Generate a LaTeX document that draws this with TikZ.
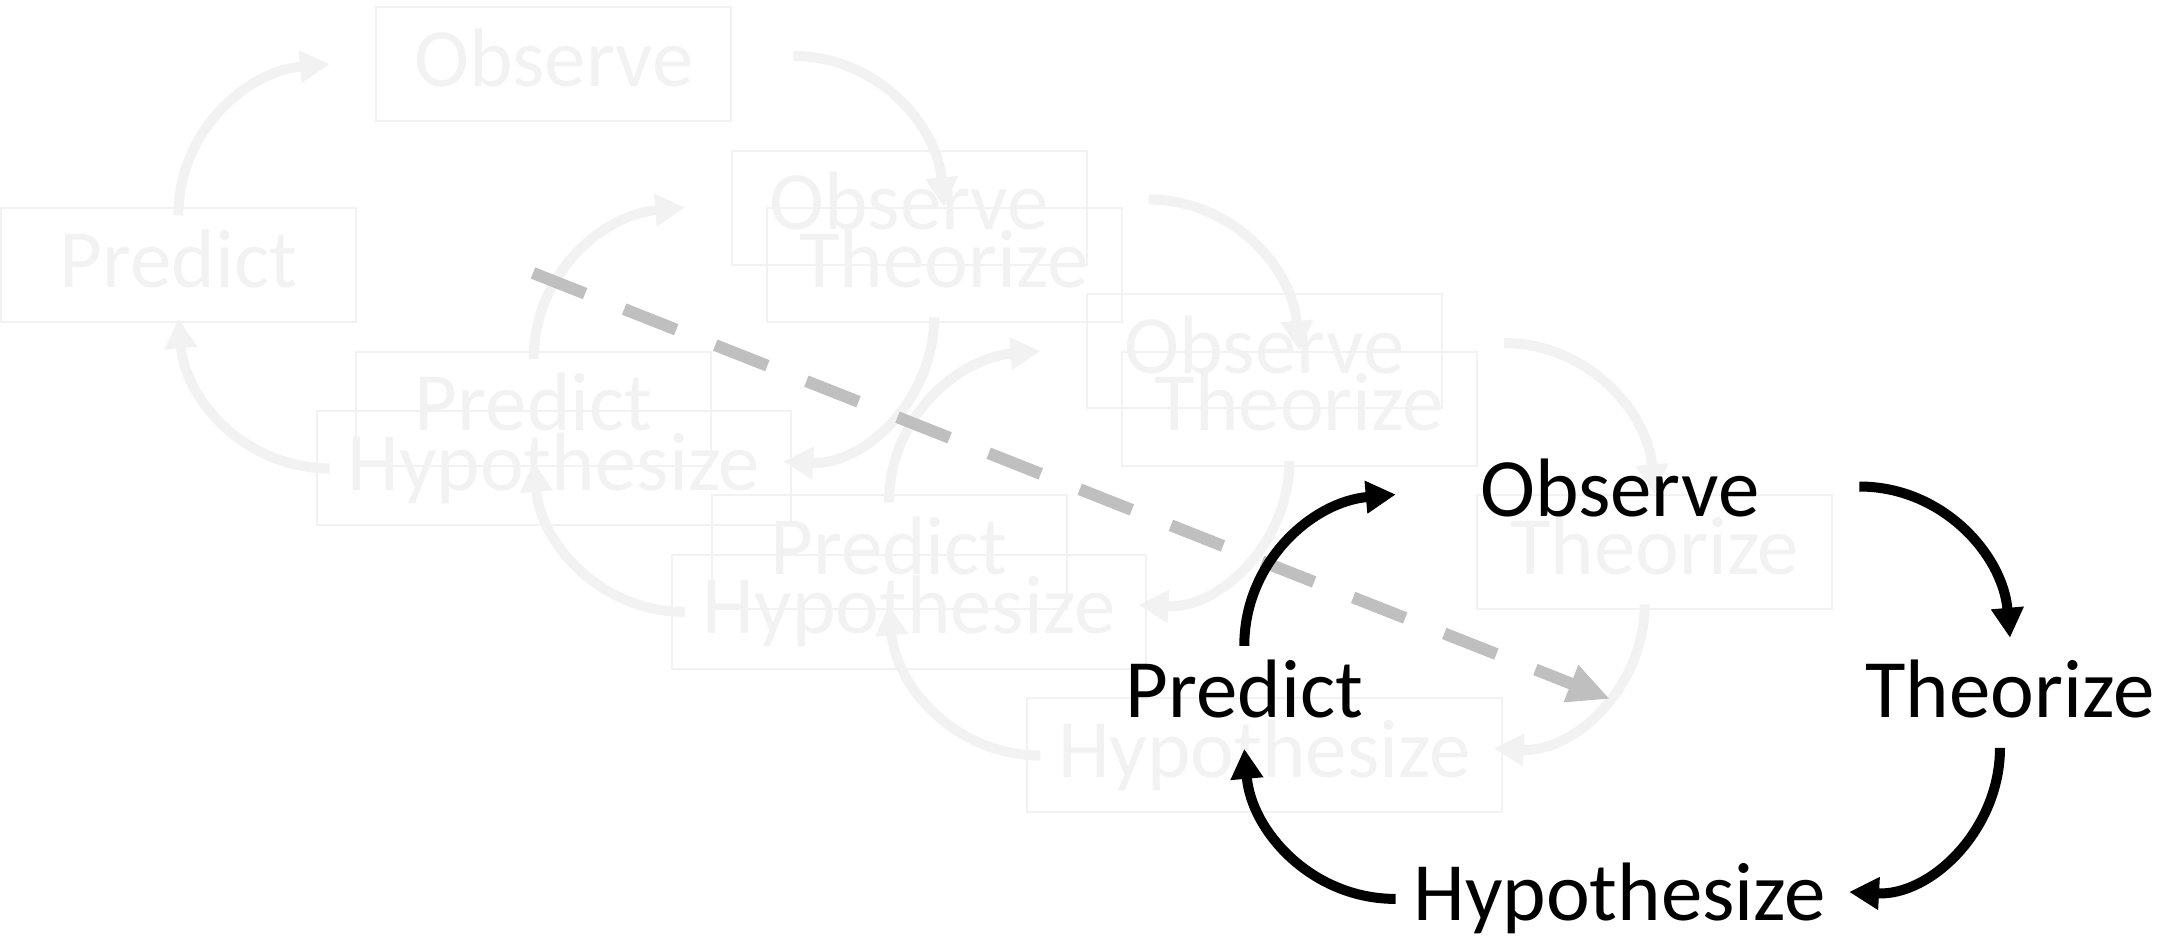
\documentclass[tikz,border=0pt]{standalone}
\usepackage{fontspec}
\setmainfont{Carlito}
\usepackage{xcolor}
\definecolor{ghost}{RGB}{242, 242, 242}
\definecolor{driftgray}{RGB}{191, 191, 191}
\usepackage{tikz}
\usetikzlibrary{arrows.meta, positioning, calc}

\begin{document}
\begin{tikzpicture}[
    stage/.style={rectangle, draw=ghost, line width=0.02cm, text=ghost,
      minimum width=3.55cm, minimum height=1.14cm, inner sep=0pt,
      text height=0.62cm, text depth=0.18cm, font=\fontsize{23.6}{28}\selectfont},
    wide/.style={minimum width=4.745cm},
    turn/.style={-{Triangle[length=0.3cm, width=0.31cm]}, line width=0.1cm, color=ghost},
    drift/.style={-{Triangle[length=0.42cm, width=0.37cm]}, line width=0.12cm,
      color=driftgray, dash pattern=on 0.56cm off 0.42cm}
  ]
    \useasboundingbox (0,0) rectangle (21.81,-9.37);

    % faded earlier rounds
    \foreach \k in {0,1,2} {
      \node[stage] (obs\k) at ({5.539+3.553*\k}, {-0.640-1.435*\k}) {Observe};
      \node[stage, on grid, below left=2.013cm and 3.755cm of obs\k] (pre\k) {Predict};
      \node[stage, on grid, below right=2.013cm and 3.902cm of obs\k] (the\k) {Theorize};
      \node[stage, wide, on grid, below=4.044cm of obs\k] (hyp\k) {Hypothesize};

      \draw[turn] ([yshift=-0.8mm]pre\k.north) to[out=90, in=185] ([xshift=-4.55mm]obs\k.west);
      \draw[turn] ([xshift=6.1mm, yshift=0.8mm]obs\k.east) to[out=0, in=95] (the\k.north);
      \draw[turn] ([xshift=-1mm, yshift=0.6mm]the\k.south) to[out=-90, in=-3] ([xshift=-0.9mm, yshift=0.7mm]hyp\k.east);
      \draw[turn] ([xshift=1.4mm]hyp\k.west) to[out=180, in=-85] ([yshift=0.5mm]pre\k.south);
    }

    % drift of the cycle
    \coordinate (driftstart) at (5.33, -2.73);
    \coordinate (driftend) at (16.10, -6.99);
    \draw[drift] (driftstart) -- (driftend);

    % current round
    \node[stage, draw=none, text=black] (obs3) at (16.198, -4.945) {Observe};
    \node[stage, draw=none, text=black, on grid, below left=2.013cm and 3.755cm of obs3] (pre3) {Predict};
    \node[stage, draw=none, text=black, on grid, below right=2.013cm and 3.902cm of obs3] (the3) {Theorize};
    \node[stage, wide, draw=none, text=black, on grid, below=4.044cm of obs3] (hyp3) {Hypothesize};

    \draw[turn, color=black] ([yshift=-0.8mm]pre3.north) to[out=90, in=185] ([xshift=-4.55mm]obs3.west);
    \draw[turn, color=black] ([xshift=6.1mm, yshift=0.8mm]obs3.east) to[out=0, in=95] (the3.north);
    \draw[turn, color=black] ([xshift=-1mm, yshift=0.6mm]the3.south) to[out=-90, in=-3] ([xshift=-0.9mm, yshift=0.7mm]hyp3.east);
    \draw[turn, color=black] ([xshift=1.4mm]hyp3.west) to[out=180, in=-85] ([yshift=0.5mm]pre3.south);
  \end{tikzpicture}
\end{document}
